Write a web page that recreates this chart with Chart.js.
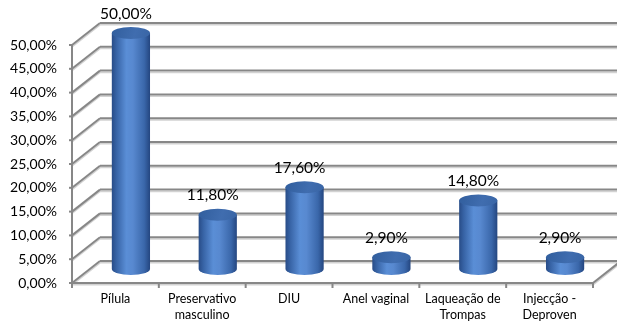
<!DOCTYPE html>
<html>
<head>
<meta charset="utf-8">
<script src="https://cdn.jsdelivr.net/npm/chart.js@4/dist/chart.umd.min.js"></script>
<style>
  html, body { margin: 0; padding: 0; background: #ffffff; }
  #wrap { width: 617px; height: 324px; }
</style>
</head>
<body>
<div id="wrap"><canvas id="c" width="617" height="324"></canvas></div>
<script>
// Métodos contraceptivos utilizados (%)
const categories = [
  'Pílula',
  ['Preservativo', 'masculino'],
  'DIU',
  'Anel vaginal',
  ['Laqueação de', 'Trompas'],
  ['Injecção -', 'Deproven']
];
const values = [50.0, 11.8, 17.6, 2.9, 14.8, 2.9];
const yTicks = [0, 5, 10, 15, 20, 25, 30, 35, 40, 45, 50];

const FONT = 'Lato, "Liberation Sans", sans-serif';
const DEPTH_X = 28, DEPTH_Y = 22;   // perspective offset of the back wall

const fmt = v => v.toFixed(2).replace('.', ',') + '%';

function line(ctx, x1, y1, x2, y2) {
  // 3D-style gridline: soft light shadow under a grey stroke
  ctx.strokeStyle = '#d2d2d2';
  ctx.lineWidth = 1.5;
  ctx.beginPath(); ctx.moveTo(x1, y1 + 1.8); ctx.lineTo(x2, y2 + 1.8); ctx.stroke();
  ctx.strokeStyle = '#878787';
  ctx.lineWidth = 2;
  ctx.beginPath(); ctx.moveTo(x1, y1); ctx.lineTo(x2, y2); ctx.stroke();
}

const walls = {
  id: 'walls',
  beforeDatasetsDraw(chart) {
    const { ctx, chartArea: a, scales: { y } } = chart;
    ctx.save();
    ctx.lineCap = 'butt';
    // left wall diagonals + back wall gridlines
    yTicks.forEach(v => {
      const yf = y.getPixelForValue(v);
      line(ctx, a.left, yf, a.left + DEPTH_X, yf - DEPTH_Y);
      line(ctx, a.left + DEPTH_X, yf - DEPTH_Y, a.right + DEPTH_X, yf - DEPTH_Y);
      // small stub on the value axis
      ctx.strokeStyle = '#878787'; ctx.lineWidth = 2;
      ctx.beginPath(); ctx.moveTo(a.left - 3, yf); ctx.lineTo(a.left, yf); ctx.stroke();
    });
    // floor front and right edges
    const y0 = y.getPixelForValue(0);
    line(ctx, a.left, y0, a.right, y0);
    line(ctx, a.right, y0, a.right + DEPTH_X, y0 - DEPTH_Y);
    // value axis
    ctx.strokeStyle = '#878787'; ctx.lineWidth = 2;
    ctx.beginPath(); ctx.moveTo(a.left, y.getPixelForValue(50)); ctx.lineTo(a.left, y0 + 1); ctx.stroke();
    // category separators
    const step = (a.right - a.left) / categories.length;
    for (let k = 0; k <= categories.length; k++) {
      const xx = a.left + k * step;
      ctx.beginPath(); ctx.moveTo(xx, y0); ctx.lineTo(xx, y0 + 5); ctx.stroke();
    }
    ctx.restore();
  }
};

const cylinders = {
  id: 'cylinders',
  afterDatasetsDraw(chart) {
    const { ctx } = chart;
    const meta = chart.getDatasetMeta(0);
    ctx.save();
    meta.data.forEach((bar, i) => {
      // cylinders stand half-way into the depth of the floor
      const cx = bar.x + 15.5;
      const top = bar.y - 12;
      const bot = bar.base - 14;
      const rx = bar.width / 2;
      const ry = 6;

      const g = ctx.createLinearGradient(cx - rx, 0, cx + rx, 0);
      g.addColorStop(0, '#284c87');
      g.addColorStop(0.12, '#3763a5');
      g.addColorStop(0.38, '#5a8ed6');
      g.addColorStop(0.55, '#5889d0');
      g.addColorStop(0.85, '#3a67aa');
      g.addColorStop(1, '#244680');

      ctx.fillStyle = g;
      ctx.beginPath();
      ctx.moveTo(cx - rx, top);
      ctx.lineTo(cx - rx, bot);
      ctx.ellipse(cx, bot, rx, ry, 0, Math.PI, 0, true);
      ctx.lineTo(cx + rx, top);
      ctx.closePath();
      ctx.fill();

      const gt = ctx.createLinearGradient(cx - rx, top - ry, cx + rx, top + ry);
      gt.addColorStop(0, '#315e9d');
      gt.addColorStop(0.6, '#406daf');
      gt.addColorStop(1, '#3965a5');
      ctx.fillStyle = gt;
      ctx.beginPath();
      ctx.ellipse(cx, top, rx, ry, 0, 0, Math.PI * 2);
      ctx.fill();

      // value label
      ctx.fillStyle = '#000000';
      ctx.font = '15.5px ' + FONT;
      ctx.textAlign = 'center';
      ctx.textBaseline = 'middle';
      ctx.fillText(fmt(values[i]), cx - 5, top - 19.5);
    });
    ctx.restore();
  }
};

new Chart(document.getElementById('c'), {
  type: 'bar',
  data: {
    labels: categories,
    datasets: [{
      data: values,
      backgroundColor: 'rgba(0,0,0,0)',
      borderWidth: 0,
      categoryPercentage: 1,
      barPercentage: 0.44
    }]
  },
  options: {
    responsive: false,
    devicePixelRatio: 1,
    animation: false,
    layout: { padding: { top: 45, right: 24, bottom: 0, left: 0 } },
    plugins: { legend: { display: false }, tooltip: { enabled: false } },
    scales: {
      x: {
        grid: { display: false, drawTicks: false },
        border: { display: false },
        ticks: {
          color: '#000000',
          font: { family: FONT, size: 12.5, lineHeight: 1.28 },
          padding: 8,
          maxRotation: 0,
          autoSkip: false
        },
        afterFit(scale) { scale.height = 41; }
      },
      y: {
        min: 0,
        max: 50,
        grid: { display: false, drawTicks: false },
        border: { display: false },
        ticks: {
          stepSize: 5,
          color: '#000000',
          font: { family: FONT, size: 14 },
          padding: 15,
          callback: v => fmt(v)
        },
        afterFit(scale) { scale.width = 72; }
      }
    }
  },
  plugins: [walls, cylinders]
});
</script>
</body>
</html>
